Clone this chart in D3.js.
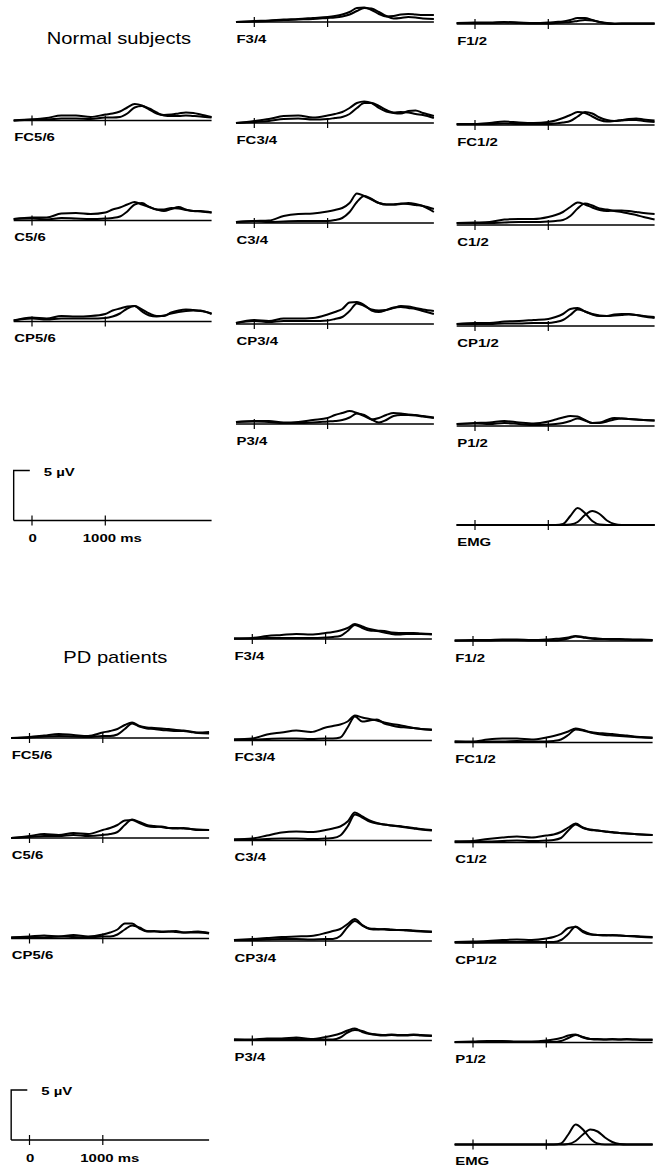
<!DOCTYPE html>
<html><head><meta charset="utf-8">
<script src="https://cdn.jsdelivr.net/npm/d3@7"></script>
<style>html,body{margin:0;padding:0;background:#fff;} svg{display:block}</style>
</head><body>
<svg id="chart" width="655" height="1173"></svg>
<script>
// ---------------- DATA ----------------
const timesMs = [-250, 0, 200, 400, 600, 800, 1000, 1100, 1200, 1300, 1400, 1500, 1600, 1700, 1800, 1900, 2000, 2100, 2200, 2300, 2450];
const channelNames = ["FC5/6","C5/6","CP5/6","F3/4","FC3/4","C3/4","CP3/4","P3/4","F1/2","FC1/2","C1/2","CP1/2","P1/2","EMG"];
const groupTitles = ["Normal subjects", "PD patients"];
const scaleBarValue = 5;            // µV
const scaleBarLabel = "5 µV";
const timeTickValues = [0, 1000];   // ms
const timeTickLabels = ["0", "1000 ms"];

// µV values at timesMs, trace A (earlier onset) and trace B (later onset)
const normalTraceA = [
  [0, 0.1, 0.25, 0.5, 0.5, 0.35, 0.6, 0.7, 0.9, 1.3, 1.65, 1.5, 1.1, 0.7, 0.55, 0.6, 0.7, 0.8, 0.75, 0.6, 0.35],
  [0.15, 0.3, 0.3, 0.7, 0.75, 0.65, 0.8, 1.1, 1.3, 1.6, 1.85, 1.6, 1.35, 1.1, 0.95, 1.15, 1.35, 1.1, 0.95, 0.95, 0.8],
  [0.1, 0.4, 0.3, 0.55, 0.5, 0.55, 0.75, 1.1, 1.3, 1.5, 1.55, 1.2, 0.8, 0.55, 0.55, 0.9, 1.1, 1.2, 1.15, 1.1, 0.75],
  [0, 0.1, 0.15, 0.25, 0.3, 0.4, 0.5, 0.6, 0.75, 1.0, 1.4, 1.45, 1.2, 0.8, 0.55, 0.6, 0.75, 0.8, 0.75, 0.7, 0.7],
  [0, 0.2, 0.4, 0.7, 0.75, 0.55, 0.75, 0.9, 1.1, 1.5, 2.0, 2.15, 2.0, 1.5, 1.15, 1.0, 0.95, 1.2, 1.25, 1.0, 0.7],
  [0.1, 0.2, 0.25, 0.7, 0.9, 0.95, 1.15, 1.3, 1.5, 2.0, 2.95, 2.7, 2.35, 2.0, 1.85, 1.85, 1.9, 2.0, 1.9, 1.7, 1.1],
  [0.1, 0.4, 0.3, 0.55, 0.55, 0.6, 0.95, 1.2, 1.5, 2.15, 2.2, 1.9, 1.35, 1.2, 1.4, 1.65, 1.7, 1.6, 1.5, 1.3, 1.0],
  [0.2, 0.3, 0.3, 0.15, 0.2, 0.4, 0.6, 0.9, 1.1, 1.3, 1.1, 0.8, 0.45, 0.6, 0.9, 1.1, 1.05, 0.95, 0.9, 0.8, 0.65],
  [0.1, 0.15, 0.15, 0.2, 0.15, 0.1, 0.15, 0.2, 0.25, 0.4, 0.6, 0.6, 0.4, 0.2, 0.05, 0, 0.05, 0.05, 0.05, 0.05, 0.05],
  [0.1, 0.1, 0.2, 0.35, 0.25, 0.2, 0.3, 0.45, 0.7, 1.0, 1.3, 1.2, 0.85, 0.5, 0.35, 0.4, 0.5, 0.6, 0.65, 0.55, 0.45],
  [0.2, 0.25, 0.3, 0.55, 0.6, 0.6, 0.8, 1.0, 1.3, 1.8, 2.25, 2.05, 1.75, 1.5, 1.4, 1.45, 1.45, 1.4, 1.3, 1.2, 1.1],
  [0.2, 0.3, 0.3, 0.45, 0.5, 0.6, 0.7, 0.9, 1.2, 1.7, 1.8, 1.45, 1.2, 1.05, 1.0, 1.15, 1.2, 1.2, 1.1, 0.95, 0.8],
  [0.2, 0.3, 0.35, 0.5, 0.35, 0.25, 0.45, 0.65, 0.85, 1.0, 0.95, 0.6, 0.3, 0.35, 0.6, 0.8, 0.75, 0.7, 0.65, 0.6, 0.55],
  [0, 0, 0, 0, 0, 0, 0, 0, 0.1, 0.9, 1.7, 1.2, 0.4, 0.05, 0, 0, 0, 0, 0, 0, 0]
];
const normalTraceB = [
  [0, 0.1, 0.1, 0.2, 0.2, 0.15, 0.3, 0.3, 0.35, 0.7, 1.3, 1.45, 1.2, 0.8, 0.5, 0.45, 0.45, 0.5, 0.45, 0.4, 0.3],
  [0.15, 0.2, 0.1, 0.25, 0.2, 0.15, 0.2, 0.25, 0.4, 0.9, 1.6, 1.75, 1.35, 1.1, 1.1, 1.25, 1.2, 1.05, 0.95, 0.9, 0.8],
  [0.1, 0.3, 0.2, 0.3, 0.3, 0.3, 0.35, 0.5, 0.8, 1.3, 1.55, 1.0, 0.6, 0.5, 0.6, 0.8, 0.95, 1.05, 1.1, 1.05, 0.8],
  [0, 0.05, 0.1, 0.2, 0.25, 0.3, 0.4, 0.45, 0.55, 0.75, 1.1, 1.4, 1.35, 1.0, 0.6, 0.35, 0.4, 0.5, 0.45, 0.35, 0.3],
  [0, 0.1, 0.2, 0.4, 0.45, 0.35, 0.4, 0.5, 0.6, 0.9, 1.5, 2.0, 2.0, 1.7, 1.3, 1.05, 1.1, 1.05, 0.9, 0.8, 0.5],
  [0.1, 0.2, 0.1, 0.15, 0.2, 0.2, 0.2, 0.3, 0.5, 1.1, 2.1, 2.7, 2.4, 2.0, 1.85, 1.85, 1.95, 1.9, 1.8, 1.7, 1.4],
  [0.1, 0.3, 0.2, 0.3, 0.3, 0.3, 0.35, 0.5, 0.7, 1.3, 2.05, 1.8, 1.45, 1.35, 1.4, 1.6, 1.8, 1.75, 1.6, 1.45, 1.3],
  [0.2, 0.25, 0.2, 0.1, 0.1, 0.15, 0.25, 0.3, 0.4, 0.65, 1.05, 0.9, 0.45, 0.15, 0.4, 0.8, 0.9, 0.9, 0.85, 0.75, 0.6],
  [0.1, 0.1, 0.1, 0.15, 0.1, 0.05, 0.05, 0.1, 0.15, 0.2, 0.3, 0.4, 0.35, 0.2, 0.1, 0.05, 0.05, 0.05, 0.05, 0.05, 0.05],
  [0.1, 0.1, 0.1, 0.15, 0.1, 0.1, 0.1, 0.15, 0.25, 0.4, 0.85, 1.3, 1.15, 0.75, 0.5, 0.4, 0.45, 0.5, 0.5, 0.4, 0.3],
  [0.2, 0.2, 0.2, 0.25, 0.3, 0.3, 0.35, 0.4, 0.5, 0.9, 1.65, 2.15, 1.95, 1.65, 1.55, 1.4, 1.3, 1.15, 1.0, 0.8, 0.55],
  [0.2, 0.2, 0.2, 0.25, 0.25, 0.3, 0.3, 0.4, 0.6, 1.1, 1.65, 1.45, 1.15, 1.0, 1.0, 1.05, 1.1, 1.15, 1.1, 1.0, 0.9],
  [0.2, 0.25, 0.2, 0.3, 0.2, 0.1, 0.15, 0.2, 0.3, 0.5, 0.75, 0.55, 0.3, 0.3, 0.45, 0.65, 0.75, 0.7, 0.65, 0.6, 0.55],
  [0, 0, 0, 0, 0, 0, 0, 0, 0, 0.05, 0.3, 1.0, 1.4, 1.1, 0.45, 0.1, 0, 0, 0, 0, 0]
];
const pdTraceA = [
  [0, 0.1, 0.25, 0.4, 0.3, 0.2, 0.55, 0.7, 0.9, 1.3, 1.55, 1.2, 1.05, 1.0, 0.95, 0.9, 0.8, 0.75, 0.65, 0.55, 0.6],
  [0, 0.2, 0.4, 0.3, 0.5, 0.4, 0.8, 1.0, 1.3, 1.75, 1.8, 1.5, 1.2, 1.1, 1.15, 1.0, 0.95, 1.0, 0.9, 0.8, 0.8],
  [0.1, 0.2, 0.3, 0.2, 0.35, 0.2, 0.4, 0.6, 0.9, 1.5, 1.5, 1.0, 0.7, 0.75, 0.65, 0.7, 0.75, 0.6, 0.65, 0.7, 0.55],
  [0.05, 0.1, 0.3, 0.4, 0.5, 0.45, 0.6, 0.7, 0.85, 1.1, 1.5, 1.25, 1.0, 0.85, 0.8, 0.65, 0.6, 0.6, 0.6, 0.55, 0.5],
  [0.1, 0.2, 0.6, 0.8, 1.0, 0.85, 1.3, 1.45, 1.6, 1.9, 2.5, 2.3, 2.15, 2.0, 1.8, 1.65, 1.55, 1.4, 1.25, 1.15, 1.1],
  [0.1, 0.2, 0.5, 0.8, 0.9, 0.85, 1.05, 1.2, 1.4, 1.9, 2.8, 2.4, 2.0, 1.75, 1.6, 1.5, 1.4, 1.3, 1.2, 1.1, 1.0],
  [0.1, 0.2, 0.3, 0.4, 0.45, 0.5, 0.8, 1.0, 1.2, 1.7, 2.2, 1.6, 1.2, 1.15, 1.2, 1.15, 1.1, 1.1, 1.05, 1.0, 0.95],
  [0.1, 0.1, 0.2, 0.2, 0.3, 0.15, 0.35, 0.5, 0.7, 1.0, 1.2, 0.85, 0.65, 0.6, 0.55, 0.6, 0.55, 0.55, 0.6, 0.55, 0.5],
  [0.05, 0.1, 0.1, 0.15, 0.15, 0.1, 0.15, 0.2, 0.25, 0.35, 0.5, 0.4, 0.3, 0.25, 0.2, 0.2, 0.2, 0.15, 0.15, 0.15, 0.1],
  [0.1, 0.1, 0.3, 0.4, 0.4, 0.3, 0.5, 0.65, 0.85, 1.1, 1.4, 1.25, 1.05, 0.95, 0.9, 0.85, 0.75, 0.7, 0.6, 0.55, 0.5],
  [0.1, 0.15, 0.35, 0.5, 0.6, 0.5, 0.7, 0.8, 1.05, 1.5, 1.9, 1.5, 1.25, 1.2, 1.1, 1.05, 0.95, 0.9, 0.85, 0.8, 0.75],
  [0.1, 0.15, 0.2, 0.3, 0.35, 0.3, 0.45, 0.6, 0.9, 1.5, 1.6, 1.1, 0.85, 0.8, 0.75, 0.8, 0.75, 0.7, 0.7, 0.65, 0.6],
  [0.05, 0.1, 0.15, 0.15, 0.1, 0.1, 0.2, 0.3, 0.45, 0.7, 0.8, 0.5, 0.35, 0.35, 0.3, 0.35, 0.3, 0.35, 0.3, 0.3, 0.3],
  [0, 0, 0, 0, 0, 0, 0, 0, 0.1, 1.0, 2.0, 1.5, 0.6, 0.1, 0, 0, 0, 0, 0, 0, 0]
];
const pdTraceB = [
  [0, 0.05, 0.15, 0.2, 0.15, 0.1, 0.2, 0.2, 0.35, 0.9, 1.45, 1.15, 0.95, 0.9, 0.8, 0.75, 0.7, 0.7, 0.6, 0.5, 0.45],
  [0, 0.1, 0.2, 0.2, 0.3, 0.2, 0.3, 0.4, 0.6, 1.3, 1.85, 1.6, 1.3, 1.2, 1.1, 1.0, 1.0, 0.95, 0.9, 0.85, 0.8],
  [0.1, 0.15, 0.1, 0.2, 0.15, 0.1, 0.2, 0.2, 0.4, 0.9, 1.3, 1.1, 0.75, 0.7, 0.7, 0.7, 0.65, 0.6, 0.6, 0.6, 0.5],
  [0.05, 0.05, 0.1, 0.1, 0.1, 0.1, 0.15, 0.2, 0.3, 0.8, 1.4, 1.1, 0.85, 0.8, 0.65, 0.5, 0.45, 0.5, 0.5, 0.5, 0.45],
  [0.1, 0.1, 0.15, 0.2, 0.2, 0.15, 0.2, 0.2, 0.3, 1.3, 2.4, 1.9, 2.0, 2.1, 1.7, 1.5, 1.35, 1.3, 1.25, 1.15, 1.05],
  [0.1, 0.1, 0.15, 0.2, 0.2, 0.15, 0.2, 0.25, 0.5, 1.4, 2.6, 2.3, 1.9, 1.7, 1.6, 1.5, 1.45, 1.35, 1.25, 1.15, 1.05],
  [0.1, 0.1, 0.15, 0.2, 0.2, 0.15, 0.2, 0.2, 0.5, 1.4, 2.0, 1.55, 1.25, 1.2, 1.15, 1.1, 1.1, 1.05, 1.0, 0.95, 0.9],
  [0.1, 0.05, 0.1, 0.1, 0.15, 0.05, 0.1, 0.1, 0.3, 0.8, 1.05, 0.95, 0.7, 0.55, 0.5, 0.55, 0.5, 0.5, 0.55, 0.5, 0.45],
  [0.05, 0.05, 0.05, 0.1, 0.1, 0.05, 0.05, 0.05, 0.1, 0.25, 0.45, 0.35, 0.25, 0.2, 0.2, 0.15, 0.15, 0.15, 0.1, 0.1, 0.1],
  [0.1, 0.05, 0.1, 0.1, 0.15, 0.1, 0.1, 0.15, 0.3, 0.75, 1.3, 1.2, 1.0, 0.85, 0.75, 0.7, 0.65, 0.6, 0.55, 0.5, 0.45],
  [0.1, 0.1, 0.1, 0.15, 0.2, 0.15, 0.2, 0.25, 0.45, 1.2, 1.8, 1.45, 1.3, 1.2, 1.1, 1.0, 0.95, 0.9, 0.85, 0.8, 0.75],
  [0.1, 0.05, 0.1, 0.1, 0.1, 0.1, 0.1, 0.1, 0.3, 0.9, 1.65, 1.2, 0.9, 0.8, 0.8, 0.75, 0.75, 0.7, 0.65, 0.6, 0.55],
  [0.05, 0.05, 0.05, 0.1, 0.05, 0.05, 0.05, 0.05, 0.15, 0.45, 0.75, 0.55, 0.35, 0.3, 0.3, 0.3, 0.3, 0.3, 0.3, 0.25, 0.25],
  [0, 0, 0, 0, 0, 0, 0, 0, 0, 0.05, 0.35, 1.0, 1.5, 1.3, 0.7, 0.25, 0.05, 0, 0, 0, 0]
];

// ---------------- LAYOUT ----------------
const panelCol = [0,0,0,1,1,1,1,1,2,2,2,2,2,2];
const panelRow = [1,2,3,0,1,2,3,4,0,1,2,3,4,5];
const groups = [
  { title: groupTitles[0], A: normalTraceA, B: normalTraceB,
    rowY: [22, 123, 223, 324, 424, 523], colX0: [32, 254.3, 475], colDy: [-2.5, 0, 2],
    titleX: 46.7, titleY: 43.5 },
  { title: groupTitles[1], A: pdTraceA, B: pdTraceB,
    rowY: [639, 740.5, 840.5, 941, 1040.5, 1142.5], colX0: [29.5, 252.3, 473], colDy: [-2.5, 0, 2],
    titleX: 63.3, titleY: 662.5 }
];
const FONT = "'Liberation Sans', Arial, Helvetica, sans-serif";
const TEXT_SX = 1.3;

const svg = d3.select("#chart");
svg.append("rect").attr("width", 655).attr("height", 1173).attr("fill", "#fff");

const x = d3.scaleLinear().domain([0, 1000]).range([0, 73.3]);
const y = d3.scaleLinear().domain([0, 5]).range([0, -50]);
const tMin = timesMs[0], tMax = timesMs[timesMs.length - 1];

const lineGen = d3.line()
  .x((d, i) => x(timesMs[i]))
  .y(d => y(d))
  .curve(d3.curveMonotoneX);

function addText(parent, tx, ty, str, size, weight, sx) {
  return parent.append("text")
    .attr("transform", `translate(${tx},${ty}) scale(${sx},1)`)
    .attr("font-family", FONT)
    .attr("font-size", size)
    .attr("font-weight", weight)
    .attr("fill", "#000")
    .text(str);
}

function drawBaseAndTicks(g) {
  g.append("line").attr("x1", x(tMin)).attr("x2", x(tMax))
    .attr("y1", y(0)).attr("y2", y(0))
    .attr("stroke", "#000").attr("stroke-width", 1.3);
  g.selectAll("line.tick").data(timeTickValues).enter().append("line")
    .attr("class", "tick")
    .attr("x1", d => x(d)).attr("x2", d => x(d))
    .attr("y1", -5).attr("y2", 5)
    .attr("stroke", "#000").attr("stroke-width", 1.2);
}

groups.forEach(G => {
  addText(svg, G.titleX, G.titleY, G.title, 16, "normal", 1.26);

  channelNames.forEach((name, ci) => {
    const col = panelCol[ci], row = panelRow[ci];
    const gx = G.colX0[col], gy = G.rowY[row] + G.colDy[col];
    const g = svg.append("g").attr("transform", `translate(${gx},${gy})`);
    drawBaseAndTicks(g);
    [G.B[ci], G.A[ci]].forEach(vals => {
      g.append("path").datum(vals).attr("d", lineGen)
        .attr("fill", "none").attr("stroke", "#000")
        .attr("stroke-width", 2).attr("stroke-linejoin", "round");
    });
    addText(g, x(tMin) + 0.5, 20.5, name, 11.5, "bold", TEXT_SX);
  });

  // scale bar panel (column 0, last row)
  const sx0 = G.colX0[0], sy0 = G.rowY[5] + G.colDy[0];
  const s = svg.append("g").attr("transform", `translate(${sx0},${sy0})`);
  drawBaseAndTicks(s);
  s.append("path")
    .attr("d", `M${x(-30)},${y(scaleBarValue)}H${x(tMin)}V${y(0)}`)
    .attr("fill", "none").attr("stroke", "#000").attr("stroke-width", 1.4);
  addText(s, x(tMin) + 30, y(scaleBarValue) + 5, scaleBarLabel, 11.5, "bold", TEXT_SX);
  addText(s, x(timeTickValues[0]) - 3.5, 21.5, timeTickLabels[0], 11.5, "bold", TEXT_SX);
  addText(s, x(timeTickValues[1]) - 22.5, 21.5, timeTickLabels[1], 11.5, "bold", TEXT_SX);
});
</script>
</body></html>
